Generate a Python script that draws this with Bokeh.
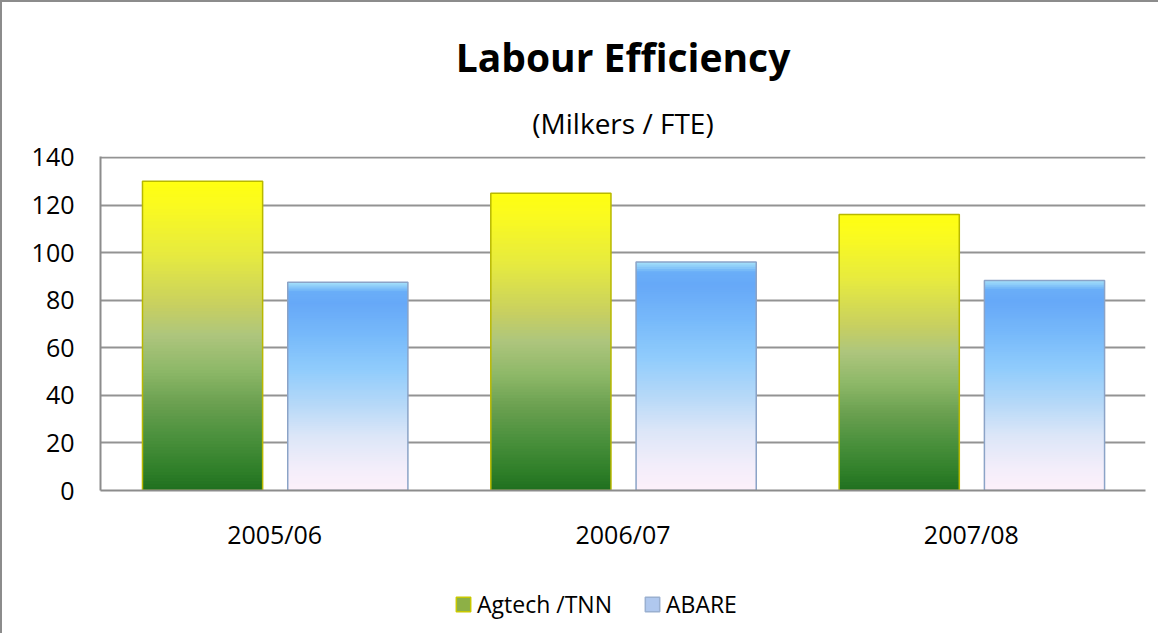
from bokeh.plotting import figure
from bokeh.layouts import column
from bokeh.models import (ColumnDataSource, FactorRange, Legend, LegendItem,
                          Title, FixedTicker, Range1d)
from bokeh.transform import dodge
from bokeh.embed import file_html
from bokeh.resources import INLINE

# ---- data ----
years = ["2005/06", "2006/07", "2007/08"]
agtech = [130, 125, 116]
abare = [87.5, 96, 88.3]
series_names = ["Agtech /TNN", "ABARE"]
y_ticks = [0, 20, 40, 60, 80, 100, 120, 140]

# ---- gradient styling (fraction from bar bottom -> colour) ----
AGTECH_STOPS = [(0.00, "#1F6F1F"), (0.06, "#2E7E28"), (0.17, "#4A903C"),
                (0.28, "#6AA050"), (0.39, "#8EB868"), (0.50, "#ADC57D"),
                (0.60, "#C8D060"), (0.76, "#E6EA40"), (0.92, "#FAFA20"),
                (1.00, "#FFFF10")]
ABARE_STOPS = [(0.00, "#FCF0FA"), (0.10, "#F4EEFA"), (0.26, "#DCE6F8"),
               (0.42, "#B4D8F8"), (0.58, "#90CCFC"), (0.74, "#78BAFA"),
               (0.90, "#66A8F8"), (0.955, "#6AAEF8"), (1.00, "#A6E2FA")]


def hex2rgb(h):
    h = h.lstrip("#")
    return tuple(int(h[i:i + 2], 16) for i in (0, 2, 4))


def lerp_color(stops, t):
    for (t0, c0), (t1, c1) in zip(stops[:-1], stops[1:]):
        if t0 <= t <= t1:
            f = 0 if t1 == t0 else (t - t0) / (t1 - t0)
            a, b = hex2rgb(c0), hex2rgb(c1)
            r = [round(a[i] + (b[i] - a[i]) * f) for i in range(3)]
            return "#%02x%02x%02x" % tuple(r)
    return stops[-1][1]


def gradient_source(values, stops, n=100):
    # thin overlapping slices (drawn bottom to top) emulate a vertical gradient
    xs, bottoms, tops, colors = [], [], [], []
    for yr, v in zip(years, values):
        for k in range(n):
            xs.append(yr)
            bottoms.append(v * k / n)
            tops.append(min(v, v * (k + 2) / n))
            colors.append(lerp_color(stops, (k + 0.5) / n))
    return ColumnDataSource(dict(year=xs, bottom=bottoms, top=tops, color=colors))


FONT = "Open Sans"
W = 1156
H1 = 565
H2 = 66

p = figure(x_range=FactorRange(*years), y_range=(0, 140.4),
           width=W, height=H1, output_backend="svg", toolbar_location=None,
           title=None, min_border_left=98, min_border_right=13,
           min_border_top=154, min_border_bottom=77)

p.add_layout(Title(text="(Milkers / FTE)", align="center", text_font=FONT,
                   text_font_size="28px", text_font_style="normal",
                   text_color="#000000", standoff=29), "above")
p.add_layout(Title(text="Labour Efficiency", align="center", text_font=FONT,
                   text_font_size="39px", text_font_style="bold",
                   text_color="#000000"), "above")

base_src = ColumnDataSource(dict(year=years, agtech=agtech, abare=abare))
offsets = [-0.207, 0.21]
width = 0.345
series_vals = [agtech, abare]
stops_list = [AGTECH_STOPS, ABARE_STOPS]
legend_fill = ["#8DB046", "#B0C8EE"]
legend_edge = ["#C8C800", "#9AB0D0"]
edge_colors = ["#B8B800", "#8BA3C7"]
cols = ["agtech", "abare"]

# legend strip below the chart; its key renderers are hidden (only the legend shows)
lg = figure(width=W, height=H2, output_backend="svg", toolbar_location=None,
            title=None, x_axis_location=None, y_axis_location=None,
            x_range=p.x_range, y_range=Range1d(-2, -1),
            min_border=0, outline_line_color=None)
lg.xgrid.visible = False
lg.ygrid.visible = False
lg.border_fill_color = "#FFFFFF"

items = []
for name, vals, stops, off, lf, le, ec, col in zip(series_names, series_vals, stops_list,
                                                    offsets, legend_fill, legend_edge,
                                                    edge_colors, cols):
    src = gradient_source(vals, stops)
    p.vbar(x=dodge("year", off, range=p.x_range), top="top", bottom="bottom",
           width=width, source=src, fill_color="color", line_color=None)
    p.vbar(x=dodge("year", off, range=p.x_range), top=col, bottom=0,
           width=width, source=base_src, fill_alpha=0, line_color=ec,
           line_width=1.5)
    key = lg.vbar(x=dodge("year", off, range=p.x_range), top=col, bottom=0,
                  width=width, source=base_src, fill_color=lf, line_color=le,
                  line_width=1.5)
    key.visible = False
    items.append(LegendItem(label=name, renderers=[key]))

legend = Legend(items=items, orientation="horizontal", location=(354, 13),
                background_fill_alpha=0, border_line_color=None, padding=0,
                margin=0, label_text_font=FONT, label_text_font_size="23px",
                label_text_color="#000000", glyph_width=18, glyph_height=18,
                label_standoff=5, spacing=31, click_policy="none",
                inactive_fill_alpha=0)
lg.add_layout(legend)

# axes
p.yaxis.ticker = FixedTicker(ticks=y_ticks)
for ax in (p.xaxis, p.yaxis):
    ax.axis_line_color = "#8C8C8C"
    ax.axis_line_width = 2
    ax.major_tick_line_color = None
    ax.minor_tick_line_color = None
    ax.major_tick_out = 0
    ax.major_tick_in = 0
    ax.minor_tick_out = 0
    ax.minor_tick_in = 0
    ax.major_label_text_font = FONT
    ax.major_label_text_font_size = "25px"
    ax.major_label_text_color = "#000000"
p.yaxis.major_label_standoff = 26
p.xaxis.major_label_standoff = 26

p.xgrid.grid_line_color = None
p.ygrid.grid_line_color = "#939393"
p.ygrid.grid_line_width = 2
p.outline_line_color = None
p.background_fill_color = "#FFFFFF"
p.border_fill_color = "#FFFFFF"

layout = column(p, lg, spacing=0)
layout.styles = {"border-top": "2px solid #8C8C8C", "border-left": "2px solid #8C8C8C"}

open("out.html", "w").write(file_html(layout, INLINE))
